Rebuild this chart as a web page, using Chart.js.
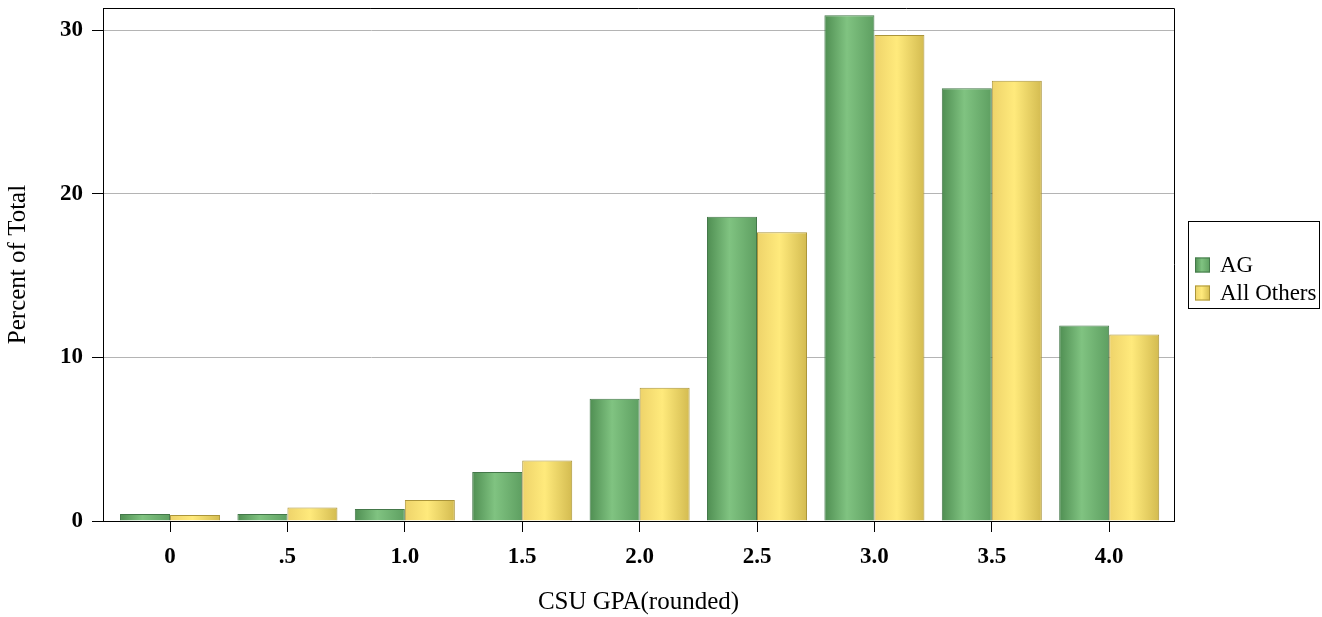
<!DOCTYPE html>
<html>
<head>
<meta charset="utf-8">
<script src="https://cdn.jsdelivr.net/npm/chart.js@4"></script>
<style>
  html, body { margin: 0; padding: 0; background: #fff; }
  #wrap { width: 1322px; height: 617px; }
</style>
</head>
<body>
<div id="wrap"><canvas id="gpaChart" width="1322" height="617"></canvas></div>
<script>
var gpaLabels = ['0', '.5', '1.0', '1.5', '2.0', '2.5', '3.0', '3.5', '4.0'];
var agValues = [0.43, 0.43, 0.74, 3.0, 7.47, 18.6, 30.9, 26.45, 11.94];
var otherValues = [0.37, 0.83, 1.29, 3.7, 8.15, 17.64, 29.7, 26.9, 11.39];
var yTicks = [0, 10, 20, 30];

var serif = "'Liberation Serif', 'Times New Roman', serif";

function toPoints(values) {
    return values.map(function (v, i) { return { x: i, y: v }; });
}

// horizontal shading on each bar, like the original
var barShading = {
    id: 'barShading',
    beforeDatasetsDraw: function (chart) {
        var ctx = chart.ctx;
        chart.data.datasets.forEach(function (ds, di) {
            var meta = chart.getDatasetMeta(di);
            meta.data.forEach(function (bar) {
                var l = bar.x - bar.width / 2, r = bar.x + bar.width / 2;
                var g = ctx.createLinearGradient(l, 0, r, 0);
                g.addColorStop(0, ds.shade[0]);
                g.addColorStop(0.45, ds.shade[1]);
                g.addColorStop(1, ds.shade[2]);
                bar.options = Object.assign({}, bar.options, { backgroundColor: g });
            });
        });
    }
};

var frameAndLegend = {
    id: 'frameAndLegend',
    afterDraw: function (chart) {
        var ctx = chart.ctx, a = chart.chartArea;
        ctx.save();
        ctx.strokeStyle = '#000';
        ctx.lineWidth = 1;
        ctx.beginPath();
        ctx.moveTo(a.left, a.top + 0.5);
        ctx.lineTo(a.right + 0.5, a.top + 0.5);
        ctx.lineTo(a.right + 0.5, a.bottom);
        ctx.stroke();

        // legend box
        ctx.strokeRect(1188.5, 221.5, 131, 87);
        ctx.font = '23px ' + serif;
        ctx.textBaseline = 'middle';
        ctx.textAlign = 'left';
        chart.data.datasets.forEach(function (ds, i) {
            var cy = 265 + i * 28;
            var g = ctx.createLinearGradient(1195, 0, 1210, 0);
            g.addColorStop(0, ds.shade[0]);
            g.addColorStop(0.45, ds.shade[1]);
            g.addColorStop(1, ds.shade[2]);
            ctx.fillStyle = g;
            ctx.fillRect(1195, cy - 7.5, 15, 15);
            ctx.strokeStyle = ds.borderColor;
            ctx.strokeRect(1195.5, cy - 7, 14, 14);
            ctx.fillStyle = '#000';
            ctx.fillText(ds.label, 1220, cy + 1);
        });
        ctx.restore();
    }
};

var ctx = document.getElementById('gpaChart').getContext('2d');
var gpaChart = new Chart(ctx, {
    type: 'bar',
    data: {
        datasets: [{
            label: 'AG',
            data: toPoints(agValues),
            backgroundColor: '#7abd7c',
            borderColor: '#44784a',
            borderWidth: 1,
            shade: ['#4f8e52', '#80c381', '#5e9f61'],
            categoryPercentage: 0.852,
            barPercentage: 1
        }, {
            label: 'All Others',
            data: toPoints(otherValues),
            backgroundColor: '#fde77a',
            borderColor: '#ab953a',
            borderWidth: 1,
            shade: ['#eed36a', '#ffea7c', '#d3bb50'],
            categoryPercentage: 0.852,
            barPercentage: 1
        }]
    },
    options: {
        responsive: false,
        animation: false,
        layout: { padding: { top: 8, right: 148, left: 0, bottom: 0 } },
        plugins: {
            legend: { display: false },
            tooltip: { enabled: false }
        },
        scales: {
            x: {
                type: 'linear',
                offset: false,
                min: -0.571,
                max: 8.552,
                z: 1,
                afterBuildTicks: function (scale) {
                    scale.ticks = gpaLabels.map(function (l, i) { return { value: i }; });
                },
                afterFit: function (scale) { scale.height = 96; },
                ticks: {
                    autoSkip: false,
                    maxRotation: 0,
                    padding: 11,
                    color: '#000',
                    font: { family: serif, size: 23, weight: 'bold' },
                    callback: function (v) { return gpaLabels[v]; }
                },
                grid: {
                    offset: false,
                    drawOnChartArea: false,
                    color: '#000',
                    tickLength: 11
                },
                border: { color: '#000', width: 1 },
                title: {
                    display: true,
                    text: 'CSU GPA(rounded)',
                    color: '#000',
                    font: { family: serif, size: 25 },
                    padding: { top: 0, bottom: 0 }
                }
            },
            y: {
                min: 0,
                max: 31.35,
                z: 1,
                afterBuildTicks: function (scale) {
                    scale.ticks = yTicks.map(function (v) { return { value: v }; });
                },
                afterFit: function (scale) {
                    scale.width = 103;
                    scale.paddingTop = 0;
                    scale.paddingBottom = 0;
                },
                ticks: {
                    padding: 9,
                    color: '#000',
                    font: { family: serif, size: 23, weight: 'bold' }
                },
                grid: {
                    color: function (c) { return c.tick && c.tick.value === 0 ? 'rgba(0,0,0,0)' : '#b4b4b4'; },
                    tickColor: '#000',
                    tickLength: 11
                },
                border: { color: '#000', width: 1 },
                title: {
                    display: true,
                    text: 'Percent of Total',
                    color: '#000',
                    font: { family: serif, size: 25 },
                    padding: { top: 3, bottom: 0 }
                }
            }
        }
    },
    plugins: [barShading, frameAndLegend]
});
</script>
</body>
</html>
